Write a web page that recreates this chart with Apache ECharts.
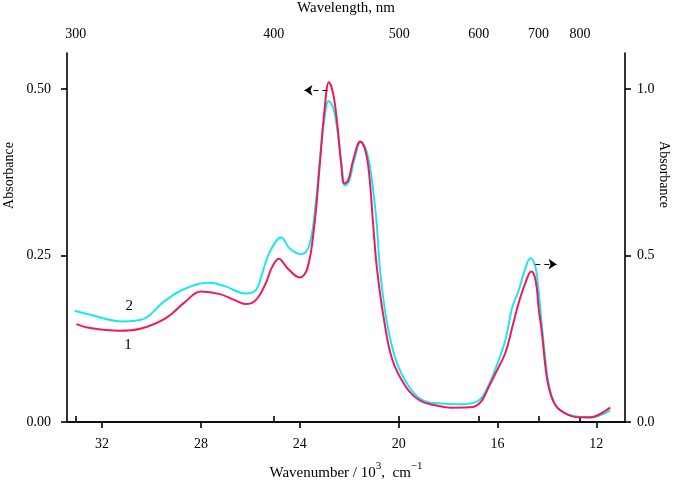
<!DOCTYPE html>
<html>
<head>
<meta charset="utf-8">
<script src="https://cdn.jsdelivr.net/npm/echarts@6/dist/echarts.min.js"></script>
<style>
  html, body { margin: 0; padding: 0; background: #fff; }
  #chart { width: 674px; height: 483px; }
</style>
</head>
<body>
<div id="chart"></div>
<script>
// wavenumber, 10^3 cm^-1
const wnTicks = [32, 28, 24, 20, 16, 12]
// top axis: wavelength labels and where they sit on the wavenumber scale
const nmLabels = [300, 400, 500, 600, 700, 800]
const nmPos = [33.07, 25.05, 19.98, 16.76, 14.34, 12.66]
const leftTicks = [0, 0.25, 0.5]
const rightTicks = [0, 0.5, 1.0]

// curve 1 (red)
const curve1 = [
  [33.04, 0.147], [32.48, 0.141], [31.30, 0.137], [30.46, 0.140], [29.42, 0.156],
  [28.65, 0.180], [28.00, 0.196], [27.23, 0.192], [26.63, 0.183], [26.19, 0.177],
  [25.78, 0.183], [25.38, 0.208], [25.14, 0.231], [24.85, 0.245], [24.50, 0.231],
  [24.01, 0.217], [23.69, 0.231], [23.41, 0.296], [23.21, 0.378], [23.00, 0.468],
  [22.82, 0.510], [22.64, 0.491], [22.48, 0.446], [22.32, 0.386], [22.20, 0.358],
  [22.04, 0.363], [21.84, 0.393], [21.55, 0.421], [21.35, 0.408], [21.19, 0.371],
  [21.03, 0.296], [20.87, 0.228], [20.59, 0.153], [20.25, 0.093], [19.71, 0.053],
  [19.17, 0.033], [18.57, 0.0255], [17.90, 0.0215], [17.16, 0.022], [16.91, 0.0235],
  [16.63, 0.032], [16.35, 0.053], [16.07, 0.074], [15.68, 0.104], [15.41, 0.141],
  [15.14, 0.179], [14.87, 0.209], [14.63, 0.226], [14.50, 0.219], [14.40, 0.198],
  [14.34, 0.173], [14.20, 0.133], [14.06, 0.083], [13.93, 0.053], [13.66, 0.0255],
  [13.26, 0.013], [12.72, 0.007], [12.25, 0.007], [11.92, 0.0105], [11.44, 0.0215]
]

// curve 2 (cyan)
const curve2 = [
  [33.11, 0.167], [32.48, 0.161], [31.16, 0.151], [30.46, 0.153], [29.42, 0.183],
  [28.65, 0.200], [27.67, 0.209], [27.04, 0.204], [26.19, 0.193], [25.78, 0.198],
  [25.54, 0.221], [25.22, 0.255], [24.75, 0.277], [24.42, 0.261], [23.94, 0.252],
  [23.61, 0.266], [23.34, 0.333], [23.21, 0.386], [23.00, 0.456], [22.83, 0.482],
  [22.64, 0.471], [22.48, 0.438], [22.32, 0.389], [22.16, 0.355], [22.00, 0.362],
  [21.80, 0.393], [21.53, 0.420], [21.31, 0.408], [21.11, 0.371], [20.90, 0.303],
  [20.75, 0.228], [20.49, 0.153], [20.11, 0.093], [19.58, 0.053], [19.04, 0.033],
  [18.37, 0.028], [17.56, 0.0265], [16.91, 0.0295], [16.63, 0.037], [16.35, 0.056],
  [16.07, 0.081], [15.68, 0.123], [15.41, 0.171], [15.14, 0.198], [14.87, 0.231],
  [14.67, 0.246], [14.47, 0.233], [14.34, 0.198], [14.20, 0.143], [14.06, 0.093],
  [13.93, 0.058], [13.66, 0.0255], [13.26, 0.013], [12.72, 0.008], [12.25, 0.0065],
  [11.92, 0.009], [11.44, 0.017]
]

const font = "Liberation Serif"
const black = "#000"

const chart = echarts.init(document.getElementById("chart"))

const axisCommon = {
  axisLine: { show: true, lineStyle: { color: black, width: 1.6 } },
  axisTick: { show: true, inside: false, length: 6, lineStyle: { color: black, width: 1.6 } },
  splitLine: { show: false },
  axisLabel: { color: black, fontFamily: font, fontSize: 14 },
  nameTextStyle: { color: black, fontFamily: font, fontSize: 15 },
  nameMoveOverlap: false,
}

chart.setOption({
  animation: false,
  grid: { left: 67, right: 49, top: 53, bottom: 61, containLabel: false, outerBoundsMode: "none" },
  xAxis: [
    {
      ...axisCommon,
      type: "value",
      position: "bottom",
      inverse: true,
      min: 10.84,
      max: 33.42,
      axisTick: { ...axisCommon.axisTick, customValues: wnTicks },
      axisLabel: { ...axisCommon.axisLabel, margin: 15, customValues: wnTicks },
      name: "{n|Wavenumber / 10}{s|3}{n|,  cm}{s|−1}",
      nameLocation: "middle",
      nameGap: 39,
      nameTextStyle: {
        ...axisCommon.nameTextStyle,
        rich: {
          n: { fontFamily: font, fontSize: 15, color: black, lineHeight: 20, verticalAlign: "bottom" },
          s: { fontFamily: font, fontSize: 11, color: black, lineHeight: 12, verticalAlign: "top" },
        },
      },
    },
    {
      ...axisCommon,
      type: "value",
      position: "top",
      inverse: true,
      min: 10.84,
      max: 33.42,
      axisTick: { ...axisCommon.axisTick, customValues: nmPos },
      axisLabel: {
        ...axisCommon.axisLabel,
        margin: 12,
        customValues: nmPos,
        formatter: (v) => {
          const i = nmPos.indexOf(v)
          return i >= 0 ? String(nmLabels[i]) : ""
        },
      },
      name: "Wavelength, nm",
      nameLocation: "middle",
      nameGap: 37,
    },
  ],
  yAxis: [
    {
      ...axisCommon,
      type: "value",
      position: "left",
      min: 0,
      max: 0.554,
      axisTick: { ...axisCommon.axisTick, customValues: leftTicks },
      axisLabel: {
        ...axisCommon.axisLabel,
        margin: 16,
        customValues: leftTicks,
        formatter: (v) => v.toFixed(2),
      },
      name: "Absorbance",
      nameLocation: "middle",
      nameRotate: 90,
      nameGap: 51,
      nameTextStyle: { ...axisCommon.nameTextStyle, fontSize: 14, padding: [0, 0, 0, 124] },
    },
    {
      ...axisCommon,
      type: "value",
      position: "right",
      min: 0,
      max: 1.108,
      axisTick: { ...axisCommon.axisTick, customValues: rightTicks },
      axisLabel: {
        ...axisCommon.axisLabel,
        margin: 12,
        customValues: rightTicks,
        formatter: (v) => v.toFixed(1),
      },
      name: "Absorbance",
      nameLocation: "middle",
      nameRotate: -90,
      nameGap: 32,
      nameTextStyle: { ...axisCommon.nameTextStyle, fontSize: 14, padding: [0, 126, 0, 0] },
    },
  ],
  series: [
    {
      name: "2",
      type: "line",
      xAxisIndex: 0,
      yAxisIndex: 0,
      data: curve2,
      showSymbol: false,
      smooth: 0.4,
      lineStyle: { color: "#1ee6f0", width: 2 },
      markPoint: {
        symbol: "circle",
        symbolSize: 0,
        label: { show: true, position: "inside", color: black, fontFamily: font, fontSize: 15, formatter: "{b}" },
        data: [{ name: "2", coord: [30.9, 0.174] }],
      },
      markLine: {
        silent: true,
        symbol: ["none", "arrow"],
        symbolSize: 8,
        label: { show: false },
        lineStyle: { color: black, type: [5, 4], width: 1.2 },
        data: [
          [{ coord: [22.88, 0.498] }, { coord: [23.81, 0.498] }],
          [{ coord: [14.47, 0.237] }, { coord: [13.61, 0.237] }],
        ],
      },
    },
    {
      name: "1",
      type: "line",
      xAxisIndex: 0,
      yAxisIndex: 0,
      data: curve1,
      showSymbol: false,
      smooth: 0.4,
      lineStyle: { color: "#ee1a5c", width: 2 },
      markPoint: {
        symbol: "circle",
        symbolSize: 0,
        label: { show: true, position: "inside", color: black, fontFamily: font, fontSize: 15, formatter: "{b}" },
        data: [{ name: "1", coord: [30.95, 0.116] }],
      },
    },
  ],
})
</script>
</body>
</html>
